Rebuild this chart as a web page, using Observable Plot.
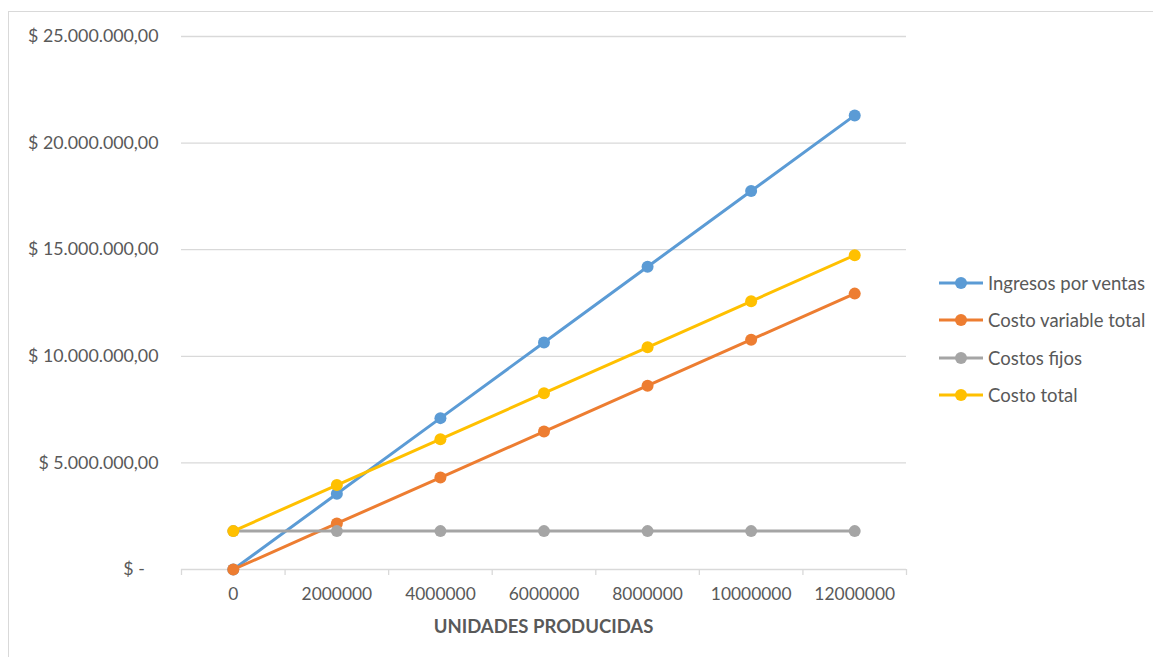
<!DOCTYPE html>
<html>
<head>
<meta charset="utf-8">
<script src="https://cdn.jsdelivr.net/npm/d3@7"></script>
<script src="https://cdn.jsdelivr.net/npm/@observablehq/plot@0.6"></script>
<style>
  html, body { margin: 0; padding: 0; background: #fff; overflow: hidden; }
  #wrap { position: relative; width: 1153px; height: 657px; font-family: Lato, "Open Sans", sans-serif; color: #595959; }
  #frame { position: absolute; left: 8px; top: 11px; width: 1170px; height: 680px; border: 1.5px solid #d9d9d9; box-sizing: border-box; }
  #chart { position: absolute; left: 0; top: 0; }
  #xtitle { position: absolute; left: 0; width: 1087px; top: 615px; text-align: center; font-weight: bold; font-size: 18.5px; color: #595959; }
  #legend { position: absolute; left: 938px; top: 264px; font-size: 18.5px; }
  .row { display: flex; align-items: center; height: 37.5px; }
  .row svg { margin-right: 4px; }
</style>
</head>
<body>
<div id="wrap">
  <div id="frame"></div>
  <div id="chart"></div>
  <div id="xtitle">UNIDADES PRODUCIDAS</div>
  <div id="legend"></div>
</div>
<script>
const categories = ["0", "2000000", "4000000", "6000000", "8000000", "10000000", "12000000"];
const seriesNames = ["Ingresos por ventas", "Costo variable total", "Costos fijos", "Costo total"];
const seriesColors = ["#5B9BD5", "#ED7D31", "#A5A5A5", "#FFC000"];
const ingresos = [0, 3550000, 7100000, 10650000, 14200000, 17750000, 21300000];
const costoVariable = [0, 2160000, 4310000, 6470000, 8620000, 10780000, 12940000];
const costosFijos = [1800000, 1800000, 1800000, 1800000, 1800000, 1800000, 1800000];
const costoTotal = [1800000, 3960000, 6110000, 8270000, 10420000, 12580000, 14740000];
const yTicks = [0, 5000000, 10000000, 15000000, 20000000, 25000000];

const seriesValues = [ingresos, costoVariable, costosFijos, costoTotal];
const idx = categories.map((_, i) => i);
const bounds = [...idx.map(i => i - 0.5), categories.length - 0.5];

function fmt(d) {
  if (d === 0) return "$ -\u00a0\u00a0\u00a0";
  const s = d3.format(",.2f")(d).replace(/,/g, "#").replace(".", ",").replace(/#/g, ".");
  return "$ " + s;
}

const seriesMarks = seriesNames.flatMap((name, k) => {
  const rows = seriesValues[k].map((v, i) => ({i, value: v, series: name}));
  return [
    Plot.line(rows, {x: "i", y: "value", stroke: seriesColors[k], strokeWidth: 3}),
    Plot.dot(rows, {x: "i", y: "value", fill: seriesColors[k], r: 6})
  ];
});

const chart = Plot.plot({
  width: 1153,
  height: 657,
  marginTop: 36,
  marginBottom: 88,
  marginLeft: 181,
  marginRight: 247,
  x: {type: "linear", domain: [-0.5, categories.length - 0.5]},
  y: {domain: [0, 25000000]},
  style: {fontFamily: "Lato, 'Open Sans', sans-serif", fontSize: "17.5px", color: "#595959", background: "transparent"},
  marks: [
    Plot.ruleY(yTicks, {stroke: "#d9d9d9", strokeWidth: 1.3}),
    Plot.axisY({ticks: yTicks, tickSize: 0, tickPadding: 23, tickFormat: fmt, label: null, fontSize: 17.8}),
    Plot.axisX({ticks: bounds, tickSize: 6, tickFormat: () => "", stroke: "#d9d9d9", strokeWidth: 1.3, label: null}),
    Plot.axisX({ticks: idx, tickSize: 0, tickPadding: 18, tickFormat: i => categories[i], label: null, fontSize: 17.4}),
    ...seriesMarks
  ]
});
document.getElementById("chart").appendChild(chart);

const legend = document.getElementById("legend");
seriesNames.forEach((name, k) => {
  const row = document.createElement("div");
  row.className = "row";
  row.innerHTML = `<svg width="46" height="14"><line x1="1" y1="7" x2="45" y2="7" stroke="${seriesColors[k]}" stroke-width="3"/><circle cx="23" cy="7" r="6" fill="${seriesColors[k]}"/></svg><span>${name}</span>`;
  legend.appendChild(row);
});
</script>
</body>
</html>
